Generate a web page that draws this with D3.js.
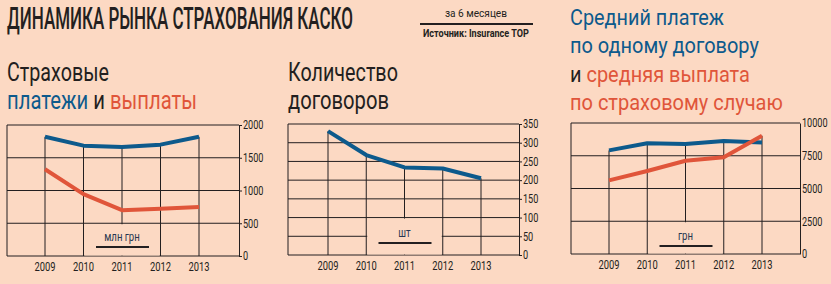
<!DOCTYPE html>
<html>
<head>
<meta charset="utf-8">
<script src="https://cdn.jsdelivr.net/npm/d3@7"></script>
<style>
body{margin:0;background:#fcd9c3;}
svg{display:block;}
</style>
</head>
<body>
<script>
//data
var years = ["2009", "2010", "2011", "2012", "2013"];
var payments = [1820, 1685, 1665, 1700, 1820];     //страховые платежи, млн грн
var claims = [1325, 945, 700, 722, 748];            //выплаты, млн грн
var contracts = [331, 267, 234, 231, 205];          //количество договоров, тыс. шт
var avgPayment = [7910, 8450, 8400, 8625, 8520];    //средний платеж, грн
var avgClaim = [5620, 6340, 7120, 7380, 9030];      //средняя выплата, грн
var ticks1 = [0, 500, 1000, 1500, 2000];
var ticks2 = [0, 50, 100, 150, 200, 250, 300, 350];
var ticks3 = [0, 2500, 5000, 7500, 10000];

var blue = "#0d5a8c",
	red = "#e0553a",
	dark = "#231f20",
	bg = "#fcd9c3",
	font = "Roboto, 'Liberation Sans', sans-serif";

var svg = d3.select("body")
	.append("svg")
	.attr("width", 831)
	.attr("height", 284);

//squeezed text lines (the source uses a condensed face)
function headLine(x, y, size, width, parts, weight){
	var g = svg.append("g")
		.attr("transform", "translate(" + x + "," + y + ")");
	var t = g.append("text")
		.style("font-family", font)
		.style("font-size", size + "px")
		.style("font-weight", weight || 400);
	parts.forEach(function(p){
		t.append("tspan").attr("fill", p[1]).text(p[0]);
	});
	var w = t.node().getComputedTextLength();
	t.attr("transform", "scale(" + (width / w) + ",1)");
	return t;
}

headLine(7, 29, 31, 346, [["ДИНАМИКА РЫНКА СТРАХОВАНИЯ КАСКО", dark]], 500);
headLine(445, 17, 11, 62, [["за 6 месяцев", dark]]);
headLine(423, 37, 10, 106, [["Источник: Insurance TOP", dark]], 700);
svg.append("line")
	.attr("x1", 420).attr("x2", 533)
	.attr("y1", 24).attr("y2", 24)
	.attr("stroke", dark)
	.attr("stroke-width", 2);

headLine(7, 81, 25, 102, [["Страховые", dark]]);
headLine(7, 109, 25, 190, [["платежи ", blue], ["и ", dark], ["выплаты", red]]);

headLine(288, 81, 25, 110, [["Количество", dark]]);
headLine(288, 109, 25, 101, [["договоров", dark]]);

headLine(570, 25, 22.5, 154, [["Средний платеж", blue]]);
headLine(570, 53, 22.5, 189, [["по одному договору", blue]]);
headLine(570, 82, 22.5, 180, [["и ", dark], ["средняя выплата", red]]);
headLine(570, 110, 22.5, 213, [["по страховому случаю", red]]);

function setChart(c){
	var x = d3.scalePoint()
		.domain(years)
		.range([c.x0, c.x1]);
	var y = d3.scaleLinear()
		.domain([0, c.ticks[c.ticks.length - 1]])
		.range([c.bottom, c.top]);

	var g = svg.append("g");

	//horizontal grid
	g.selectAll(".hgrid")
		.data(c.ticks)
		.enter()
		.append("line")
		.attr("x1", c.left).attr("x2", c.right)
		.attr("y1", function(d){ return y(d); })
		.attr("y2", function(d){ return y(d); })
		.attr("stroke", dark)
		.attr("stroke-width", 1);

	//left frame
	g.append("line")
		.attr("x1", c.left).attr("x2", c.left)
		.attr("y1", c.top).attr("y2", c.bottom)
		.attr("stroke", dark);

	//verticals from the highest value down to zero
	g.selectAll(".vgrid")
		.data(years)
		.enter()
		.append("line")
		.attr("x1", function(d){ return x(d); })
		.attr("x2", function(d){ return x(d); })
		.attr("y1", function(d, i){
			return y(d3.max(c.series, function(s){ return s.values[i]; }));
		})
		.attr("y2", c.bottom)
		.attr("stroke", dark);

	//plate behind the unit label
	g.append("rect")
		.attr("x", x(years[1]) + 1)
		.attr("width", x(years[3]) - x(years[1]) - 2)
		.attr("y", y(c.coverTick) + 1)
		.attr("height", c.bottom - y(c.coverTick) - 1.5)
		.attr("fill", bg);

	var ux = x(years[2]);
	g.append("text")
		.attr("x", ux)
		.attr("y", c.unitY)
		.attr("text-anchor", "middle")
		.style("font-family", font)
		.style("font-size", "12px")
		.attr("fill", "#263650")
		.text(c.unit)
		.attr("textLength", function(){ return this.getComputedTextLength() * 0.8; })
		.attr("lengthAdjust", "spacingAndGlyphs");
	g.append("line")
		.attr("x1", ux - 26).attr("x2", ux + 27)
		.attr("y1", c.unitY + 6).attr("y2", c.unitY + 6)
		.attr("stroke", dark)
		.attr("stroke-width", 2);

	//right axis
	var axis = g.append("g")
		.attr("transform", "translate(" + c.right + ",0)")
		.call(d3.axisRight(y)
			.tickValues(c.ticks)
			.tickFormat(d3.format("d"))
			.tickSize(c.tickSize)
			.tickSizeOuter(0)
			.tickPadding(c.tickPad));
	axis.select(".domain").attr("stroke", dark);
	axis.selectAll("line").attr("stroke", dark);
	//squeeze the labels with a transform so the box stays narrow
	axis.selectAll("text")
		.style("font-family", font)
		.style("font-size", "12px")
		.attr("fill", dark)
		.attr("x", 0)
		.attr("transform", "translate(" + (c.tickSize + c.tickPad) + ",0) scale(0.76,1)");

	//bottom years
	g.selectAll(".year")
		.data(years)
		.enter()
		.append("text")
		.attr("transform", function(d){
			return "translate(" + x(d) + "," + (c.bottom + 15) + ") scale(0.78,1)";
		})
		.attr("text-anchor", "middle")
		.style("font-family", font)
		.style("font-size", "12px")
		.attr("fill", dark)
		.text(function(d){ return d; });

	var line = d3.line()
		.x(function(d, i){ return x(years[i]); })
		.y(function(d){ return y(d); });

	c.series.forEach(function(s){
		g.append("path")
			.datum(s.values)
			.attr("d", line)
			.attr("fill", "none")
			.attr("stroke", s.color)
			.attr("stroke-width", 4)
			.attr("stroke-linejoin", "round");
	});
}

setChart({
	left: 7, right: 239, top: 125, bottom: 256,
	x0: 45, x1: 199,
	ticks: ticks1, tickSize: 3, tickPad: 1,
	coverTick: 500,
	unit: "млн грн", unitY: 241,
	series: [{values: payments, color: blue}, {values: claims, color: red}]
});

setChart({
	left: 288, right: 519, top: 124, bottom: 255,
	x0: 328, x1: 481,
	ticks: ticks2, tickSize: 3, tickPad: 1,
	coverTick: 100,
	unit: "шт", unitY: 237,
	series: [{values: contracts, color: blue}]
});

setChart({
	left: 571, right: 800, top: 123, bottom: 254,
	x0: 609, x1: 762,
	ticks: ticks3, tickSize: 0, tickPad: 2,
	coverTick: 2500,
	unit: "грн", unitY: 240,
	series: [{values: avgPayment, color: blue}, {values: avgClaim, color: red}]
});
</script>
</body>
</html>
